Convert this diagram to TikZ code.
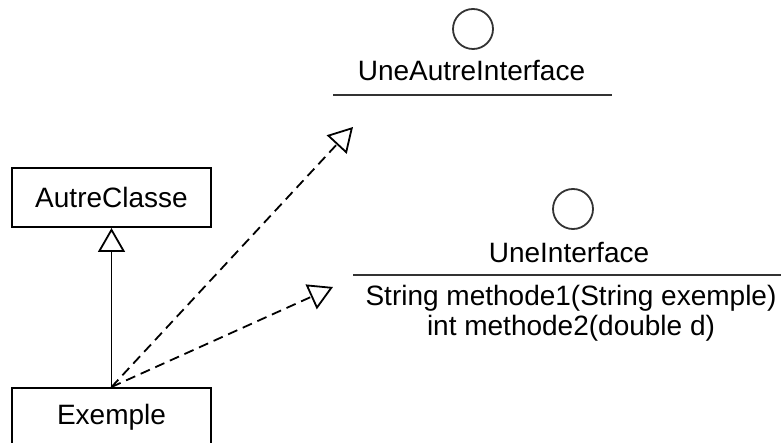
\documentclass[tikz,border=0pt]{standalone}
\usepackage{fontspec}
\setmainfont{Liberation Sans}
\usepackage{tikz}
\usetikzlibrary{arrows.meta, positioning, calc}

\tikzset{
  classbox/.style={draw, line width=1pt, minimum width=99.5pt, minimum height=29.5pt, inner sep=0pt},
  lollipop/.style={draw=black!80, line width=0.9pt, circle, minimum size=20pt, inner sep=0pt},
  ifacetext/.style={anchor=base, inner sep=0pt},
  ifaceline/.style={line width=1.1pt, black!80},
  inherit/.style={line width=0.9pt, -{Triangle[open, length=12pt, width=13.5pt]}},
  realize/.style={inherit, dash pattern=on 5pt off 3pt},
}

\begin{document}
\begin{tikzpicture}[x=0.5pt, y=-0.5pt, every node/.style={font=\fontsize{14pt}{15pt}\selectfont}]

\useasboundingbox (0,0) rectangle (781,443);

%//classes
\node[classbox] (autreclasse) at (111.5,197.5) {AutreClasse};
\node[classbox] (exemple) at (111.5,417.5) {Exemple};

%//interfaces
\node[lollipop] (autrecircle) at (473,29) {};
\node[ifacetext] (autreiface) at (471.5,81) {UneAutreInterface};
\draw[ifaceline] (333,95) -- (612,95);

\node[lollipop] (unecircle) at (573,209) {};
\node[ifacetext] (uneiface) at (569,263) {UneInterface};
\draw[ifaceline] (353,275) -- (781,275);
% base = last line here
\node[ifacetext, align=center] (methodes) at (571,335) {String methode1(String exemple)\\int methode2(double d)};

%//relations
\coordinate (autretip) at (353,127);
\coordinate (unetip) at (333,287);
\draw[inherit] (exemple.north) -- (autreclasse.south);
\draw[realize] (exemple.north) -- (autretip);
\draw[realize] (exemple.north) -- (unetip);

\end{tikzpicture}
\end{document}
